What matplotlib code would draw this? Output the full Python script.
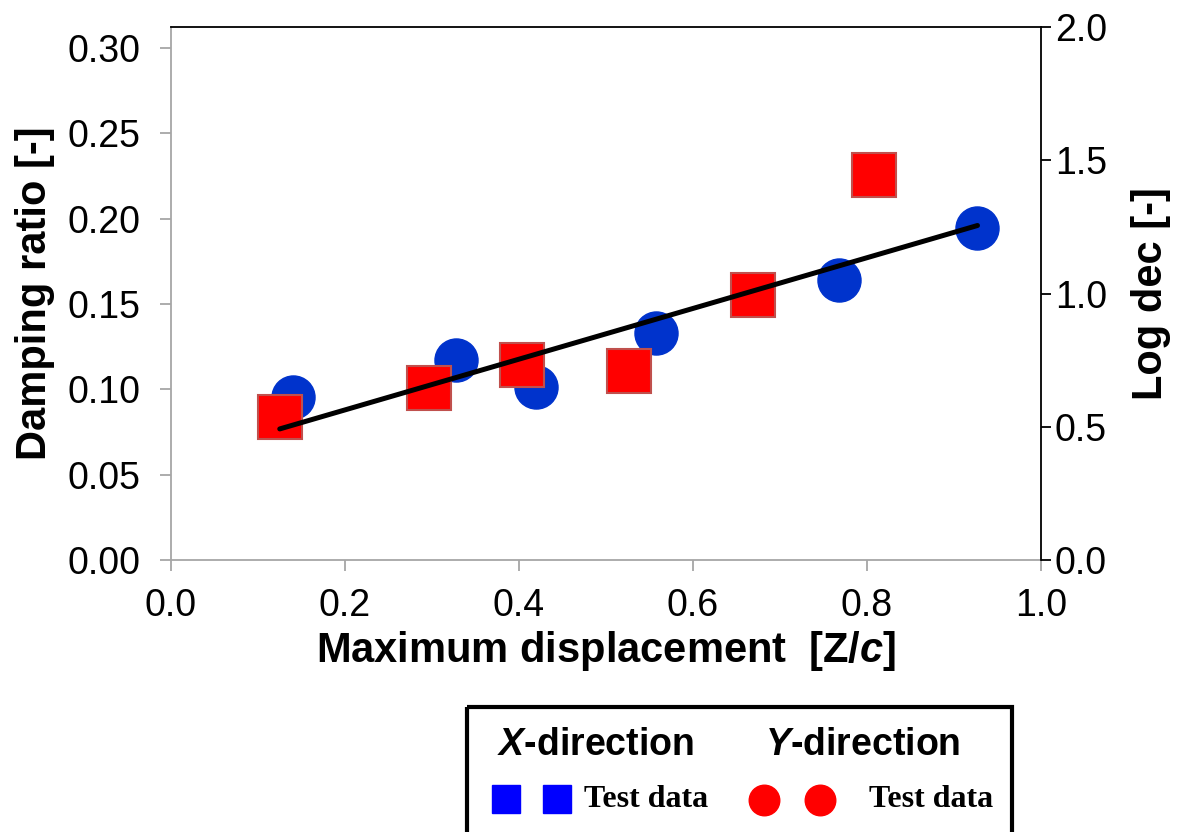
import matplotlib
matplotlib.use("Agg")
from matplotlib import pyplot as plt
from matplotlib.patches import Rectangle
import numpy as np

plt.rcParams['font.family'] = ['Liberation Sans', 'DejaVu Sans']
plt.rcParams['mathtext.fontset'] = 'custom'
plt.rcParams['mathtext.it'] = 'Liberation Sans:italic:bold'
plt.rcParams['mathtext.rm'] = 'Liberation Sans:bold'

# X-direction test data (blue circles)
x_disp_x = [0.140, 0.328, 0.420, 0.558, 0.768, 0.927]
x_damp = [0.0955, 0.117, 0.1014, 0.133, 0.164, 0.1945]

# Y-direction test data (red squares)
y_disp_x = [0.125, 0.296, 0.404, 0.526, 0.669, 0.808]
y_damp = [0.0838, 0.101, 0.114, 0.111, 0.155, 0.2256]

# fitted line end points
fit_x = [0.125, 0.927]
fit_y = [0.0768, 0.196]

left_ticks = [0.00, 0.05, 0.10, 0.15, 0.20, 0.25, 0.30]
right_ticks = [0.0, 0.5, 1.0, 1.5, 2.0]
x_ticks = [0.0, 0.2, 0.4, 0.6, 0.8, 1.0]

fig = plt.figure(figsize=(11.88, 8.32), dpi=100)
ax = fig.add_axes([171 / 1188, 1 - 560 / 832, (1041 - 171) / 1188, (560 - 27) / 832])

gray = '#a6a6a6'

ax.plot(x_disp_x, x_damp, 'o', ms=31, color='#0033cc', mec='#0033cc', zorder=3)
ax.plot(y_disp_x, y_damp, 's', ms=31, color='#ff0000', mec='#c0504d', mew=1.5, zorder=4)
ax.plot(fit_x, fit_y, '-', color='black', lw=3.6, solid_capstyle='round', zorder=5)

ax.set_xlim(0, 1.0)
ax.set_ylim(0, 0.3 * 533 / 512)
ax.set_xticks(x_ticks)
ax.set_xticklabels([f"{v:.1f}" for v in x_ticks])
ax.set_yticks(left_ticks)
ax.set_yticklabels([f"{v:.2f}" for v in left_ticks])
ax.tick_params(axis='both', labelsize=27, color=gray, width=1.3, length=8, direction='out')
ax.tick_params(axis='y', pad=14)
ax.tick_params(axis='x', pad=12)

ax.spines['left'].set_color(gray)
ax.spines['bottom'].set_color(gray)
ax.spines['left'].set_linewidth(1.3)
ax.spines['bottom'].set_linewidth(1.3)
ax.spines['top'].set_color('black')
ax.spines['top'].set_linewidth(1.3)
ax.spines['right'].set_visible(False)

ax.set_xlabel(r"Maximum displacement  [Z/$\mathit{c}$]", fontsize=30, fontweight='bold', labelpad=4)
ax.set_ylabel("Damping ratio [-]", fontsize=30, fontweight='bold', labelpad=9)

ax2 = ax.twinx()
ax2.set_ylim(0, 2.0)
ax2.set_yticks(right_ticks)
ax2.set_yticklabels([f"{v:.1f}" for v in right_ticks])
ax2.tick_params(axis='y', labelsize=27, color='black', width=1.3, length=7, direction='out', pad=3)
ax2.spines['right'].set_color('black')
ax2.spines['right'].set_linewidth(1.3)
for s in ['left', 'bottom', 'top']:
    ax2.spines[s].set_visible(False)
ax2.set_ylabel("Log dec [-]", fontsize=30, fontweight='bold', labelpad=17)

# legend box drawn by hand
lg = fig.add_axes([466 / 1188, 0, (1013 - 466) / 1188, (832 - 705) / 832])
lg.set_xlim(466, 1013)
lg.set_ylim(832, 705)
lg.axis('off')
lg.add_patch(Rectangle((467, 707), 545, 140, fill=False, ec='black', lw=3, clip_on=False))
lg.text(596, 745, r"$\mathit{X}$-direction", fontsize=27, fontweight='bold', ha='center', va='center')
lg.text(863, 745, r"$\mathit{Y}$-direction", fontsize=27, fontweight='bold', ha='center', va='center')
lg.plot([506, 557], [799, 799], 's', ms=20, color='#0000ff', mec='#0000ff')
lg.plot([764, 820], [800, 800], 'o', ms=22, color='#ff0000', mec='#ff0000')
lg.text(584, 800, "Test data", fontsize=23, fontweight='bold', family=['Liberation Serif', 'DejaVu Serif'], ha='left', va='center')
lg.text(869, 800, "Test data", fontsize=23, fontweight='bold', family=['Liberation Serif', 'DejaVu Serif'], ha='left', va='center')

fig.savefig("out.png", dpi=100)
